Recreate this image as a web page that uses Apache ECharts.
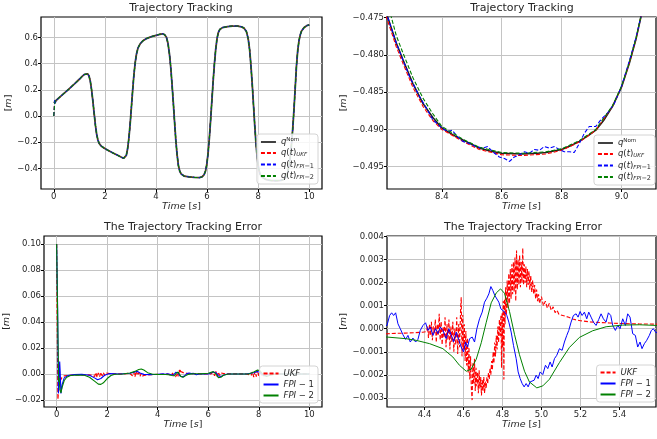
<!DOCTYPE html>
<html>
<head>
<meta charset="utf-8">
<script src="https://cdn.jsdelivr.net/npm/echarts@6/dist/echarts.min.js"></script>
<style>
  html, body { margin: 0; padding: 0; background: #fff; }
  #chart { width: 657px; height: 439px; }
</style>
</head>
<body>
<div id="chart"></div>
<script>
// ---- Tracking: nominal trajectory q(t) [m] vs time [s] ----
const qNomHead = [[0,0.1],[0.05,0.112],[0.1,0.12],[0.2,0.138],[0.4,0.172],[0.6,0.207],[0.8,0.243],[1.0,0.28],[1.1,0.3],[1.2,0.317],[1.27,0.325],[1.33,0.321],[1.38,0.305],[1.43,0.265],[1.48,0.2],[1.53,0.115],[1.58,0.02],[1.63,-0.07],[1.68,-0.14],[1.73,-0.185],[1.78,-0.21],[1.85,-0.228],[1.95,-0.242],[2.1,-0.26],[2.3,-0.28],[2.5,-0.3],[2.65,-0.315],[2.73,-0.323],[2.79,-0.322],[2.84,-0.3],[2.89,-0.25],[2.94,-0.17],[2.99,-0.06],[3.04,0.07],[3.09,0.2],[3.14,0.32],[3.19,0.41],[3.24,0.475],[3.3,0.52],[3.38,0.55],[3.48,0.572],[3.6,0.588],[3.8,0.604],[4.0,0.615],[4.15,0.623],[4.25,0.627],[4.34,0.62],[4.41,0.6],[4.47,0.555],[4.53,0.47],[4.58,0.37],[4.63,0.24],[4.68,0.1],[4.73,-0.05],[4.78,-0.19],[4.83,-0.3],[4.88,-0.38],[4.93,-0.42],[4.99,-0.443],[5.1,-0.458],[5.3,-0.465],[5.5,-0.468],[5.7,-0.47],[5.8,-0.465],[5.88,-0.45],[5.94,-0.42],[5.99,-0.37],[6.04,-0.285],[6.09,-0.17],[6.14,-0.03],[6.19,0.12],[6.24,0.27],[6.29,0.4],[6.34,0.51],[6.39,0.59],[6.44,0.635],[6.5,0.66],[6.6,0.674],[6.8,0.682],[7.0,0.686],[7.2,0.686],[7.35,0.68],[7.45,0.67],[7.54,0.645],[7.61,0.59],[7.67,0.5],[7.72,0.38],[7.77,0.24],[7.82,0.08],[7.87,-0.08],[7.92,-0.22],[7.97,-0.33],[8.02,-0.4],[8.07,-0.44],[8.12,-0.461],[8.17,-0.47]];
const qNomWindow = [[8.22,-0.475],[8.248,-0.4784],[8.27,-0.4806],[8.303,-0.4838],[8.337,-0.4865],[8.37,-0.4884],[8.4,-0.4898],[8.44,-0.4908],[8.47,-0.4914],[8.525,-0.4925],[8.56,-0.4929],[8.6,-0.4932],[8.67,-0.4933],[8.72,-0.4932],[8.748,-0.4931],[8.8,-0.4927],[8.83,-0.4922],[8.859,-0.4916],[8.89,-0.4908],[8.914,-0.4901],[8.94,-0.4888],[8.97,-0.4869],[9.0,-0.4843],[9.026,-0.4811],[9.048,-0.4779],[9.064,-0.475]];
const qNomTail = [[9.1,-0.462],[9.15,-0.435],[9.2,-0.39],[9.25,-0.32],[9.3,-0.23],[9.35,-0.11],[9.4,0.04],[9.45,0.21],[9.5,0.38],[9.55,0.5],[9.6,0.575],[9.65,0.62],[9.7,0.648],[9.8,0.675],[9.9,0.689],[10.0,0.695]];

// ---- Estimated trajectories: start-up transient and the 8.2–9.1 s stretch ----
const qUkfStart  = [[0,0],[0.02,0.07],[0.04,0.105],[0.07,0.118],[0.1,0.12]];
const qFpi1Start = [[0,0],[0.02,0.06],[0.04,0.125],[0.06,0.098],[0.08,0.11],[0.1,0.121]];
const qFpi2Start = [[0,0],[0.03,0.08],[0.06,0.115],[0.1,0.12]];
const qUkfWindow = [[8.22,-0.4755],[8.248,-0.4789],[8.27,-0.4811],[8.303,-0.4843],[8.337,-0.4869],[8.37,-0.4888],[8.4,-0.49],[8.47,-0.4916],[8.525,-0.4927],[8.6,-0.4934],[8.67,-0.4935],[8.748,-0.4933],[8.8,-0.4928],[8.859,-0.4917],[8.914,-0.4901],[8.97,-0.4869],[9.0,-0.4843],[9.026,-0.4811],[9.048,-0.4779],[9.064,-0.475]];
const qFpi1Window = [[8.22,-0.475],[8.248,-0.4784],[8.292,-0.4829],[8.326,-0.4856],[8.348,-0.4871],[8.37,-0.4887],[8.4,-0.4898],[8.42,-0.4903],[8.434,-0.4901],[8.453,-0.491],[8.47,-0.4916],[8.492,-0.4919],[8.514,-0.4923],[8.537,-0.4925],[8.553,-0.4923],[8.57,-0.493],[8.592,-0.4937],[8.609,-0.4939],[8.626,-0.4943],[8.642,-0.4937],[8.659,-0.4934],[8.676,-0.493],[8.692,-0.4932],[8.709,-0.4927],[8.726,-0.4928],[8.742,-0.4923],[8.759,-0.4925],[8.776,-0.4923],[8.792,-0.4927],[8.809,-0.493],[8.826,-0.493],[8.842,-0.4931],[8.859,-0.4919],[8.876,-0.4905],[8.892,-0.4896],[8.914,-0.4896],[8.931,-0.4887],[8.953,-0.4878],[8.976,-0.4865],[9.0,-0.4842],[9.026,-0.4808],[9.048,-0.4777],[9.064,-0.475]];
const qFpi2Window = [[8.22,-0.4732],[8.248,-0.4774],[8.27,-0.4797],[8.303,-0.483],[8.337,-0.4858],[8.37,-0.4879],[8.4,-0.4896],[8.47,-0.4913],[8.525,-0.4924],[8.6,-0.4931],[8.67,-0.4932],[8.748,-0.493],[8.8,-0.4926],[8.859,-0.4915],[8.914,-0.49],[8.97,-0.4868],[9.0,-0.4842],[9.026,-0.481],[9.048,-0.4778],[9.064,-0.4749]];

// ---- Tracking error [m]: 0–4.2 s, 4.2–5.6 s (dense), 5.6–10 s ----
const errUkfHead = [[0,0.1],[0.02,0.05],[0.05,-0.0195],[0.08,-0.012],[0.12,-0.006],[0.2,-0.003],[0.3,-0.0015],[0.5,-0.001],[0.8,-0.0008],[1.2,-0.0006],[1.4,-0.001],[1.45,0.0005],[1.5,-0.002],[1.55,0.001],[1.6,-0.0025],[1.65,0.0008],[1.7,-0.002],[1.75,0.0012],[1.8,-0.0015],[1.85,0.001],[1.9,-0.001],[1.95,0.0008],[2.0,-0.0005],[2.1,0.0003],[2.3,0],[2.6,0],[2.9,0.0005],[3.0,-0.0015],[3.05,0.0015],[3.1,-0.002],[3.15,0.0025],[3.2,-0.001],[3.25,0.0012],[3.3,-0.0018],[3.35,0.0005],[3.4,-0.0015],[3.5,-0.001],[3.7,-0.0005],[4.0,-0.0003]];
const errUkfWindow = [[4.207,-0.00022],[4.25,-0.0002],[4.3,-0.00019],[4.35,-0.00017],[4.39,-0.00015],[4.41,-0.00012],[4.415,0.0001],[4.42,-0.0004],[4.425,0.0002],[4.43,-0.0003],[4.435,0.0003],[4.44,-0.0005],[4.445,0.0001],[4.45,-0.0002],[4.455,0.0004],[4.46,-0.0006],[4.465,0.0002],[4.47,-0.0003],[4.475,0.00065],[4.48,-0.0005],[4.485,0.0003],[4.49,-0.0007],[4.495,0.0001],[4.5,-0.0004],[4.505,0.0005],[4.51,-0.0008],[4.515,0.0002],[4.52,-0.0005],[4.525,0.0004],[4.53,-0.0009],[4.535,0.0001],[4.54,-0.0006],[4.545,0.0003],[4.55,-0.001],[4.555,0],[4.56,-0.0007],[4.565,0.0005],[4.57,-0.0011],[4.575,0.0002],[4.58,-0.0008],[4.585,0.0009],[4.588,0.00137],[4.592,-0.0012],[4.596,0.0006],[4.6,-0.0009],[4.604,0.0002],[4.608,-0.0014],[4.612,-0.0001],[4.616,-0.0016],[4.62,-0.0004],[4.624,-0.0019],[4.628,-0.0008],[4.632,-0.0022],[4.636,-0.0012],[4.64,-0.0026],[4.644,-0.0031],[4.648,-0.0015],[4.652,-0.0024],[4.656,-0.0013],[4.66,-0.0027],[4.664,-0.0017],[4.668,-0.0025],[4.672,-0.0019],[4.676,-0.0028],[4.68,-0.0018],[4.684,-0.0026],[4.688,-0.0021],[4.692,-0.0029],[4.696,-0.0022],[4.7,-0.0027],[4.704,-0.0021],[4.708,-0.0028],[4.712,-0.0023],[4.716,-0.0026],[4.72,-0.0021],[4.724,-0.0024],[4.728,-0.0019],[4.732,-0.0022],[4.736,-0.0017],[4.74,-0.002],[4.744,-0.0014],[4.748,-0.0018],[4.752,-0.001],[4.756,-0.0015],[4.76,-0.0006],[4.764,-0.0012],[4.768,-0.0003],[4.772,-0.0009],[4.776,0.0001],[4.78,-0.0006],[4.784,0.0004],[4.788,-0.0003],[4.792,0.0006],[4.795,-0.0017],[4.798,0.0007],[4.801,-0.0008],[4.804,0.0012],[4.807,-0.0022],[4.81,0.0013],[4.813,0.0002],[4.816,0.0018],[4.82,0.0006],[4.824,0.0021],[4.828,0.0009],[4.832,0.0024],[4.836,0.0011],[4.84,0.0026],[4.844,0.0013],[4.848,0.0028],[4.852,0.0015],[4.856,0.0029],[4.86,0.0016],[4.864,0.0031],[4.868,0.0012],[4.872,0.0034],[4.876,0.0017],[4.88,0.003],[4.884,0.0019],[4.888,0.0032],[4.892,0.0018],[4.896,0.0029],[4.9,0.002],[4.904,0.0035],[4.908,0.0019],[4.912,0.0028],[4.916,0.002],[4.92,0.0027],[4.924,0.0018],[4.928,0.0026],[4.932,0.0019],[4.936,0.0025],[4.94,0.0017],[4.945,0.0023],[4.95,0.0016],[4.955,0.0021],[4.96,0.0015],[4.965,0.0019],[4.97,0.0013],[4.975,0.0017],[4.98,0.0012],[4.985,0.0015],[4.99,0.0011],[5.0,0.0014],[5.01,0.001],[5.02,0.0012],[5.03,0.0009],[5.04,0.0011],[5.05,0.0008],[5.06,0.00095],[5.07,0.0007],[5.08,0.0008],[5.09,0.00062],[5.1,0.0007],[5.12,0.00055],[5.14,0.0005],[5.16,0.00042],[5.18,0.00038],[5.2,0.00035],[5.25,0.0003],[5.3,0.00027],[5.35,0.00025],[5.4,0.00023],[5.45,0.00022],[5.5,0.00021],[5.588,0.0002]];
const errUkfTail = [[5.8,0.0001],[6.1,0],[6.2,0.0015],[6.25,-0.0015],[6.3,0.002],[6.35,-0.002],[6.4,0.0015],[6.45,-0.0012],[6.5,0.0008],[6.55,-0.0005],[6.7,0],[7.5,0],[7.7,-0.001],[7.75,0.0015],[7.8,-0.0025],[7.85,0.002],[7.9,-0.002],[7.95,0.003],[8.0,-0.0015],[8.05,0.002],[8.1,-0.001],[8.2,0.0005],[8.4,0],[9.0,0],[10.0,0]];

const errFpi1Head = [[0,0.1],[0.04,0.05],[0.07,-0.015],[0.1,-0.005],[0.12,0.0095],[0.14,0.002],[0.17,-0.015],[0.22,-0.008],[0.3,-0.003],[0.45,-0.0012],[0.7,-0.0005],[1.0,-0.0003],[1.3,-0.001],[1.5,-0.003],[1.62,-0.0045],[1.75,-0.0035],[1.9,-0.001],[2.1,0.0003],[2.5,0],[2.9,0.0005],[3.1,0.0015],[3.2,0.002],[3.3,0.0008],[3.45,-0.0003],[3.7,-0.0005],[4.0,-0.0002]];
const errFpi1Window = [[4.207,0.000144],[4.2205,0.000577],[4.2308,0.000693],[4.241,0.000577],[4.2513,0.000693],[4.2632,0.000216],[4.2752,0],[4.2889,-0.00026],[4.3026,-0.000462],[4.3145,-0.000289],[4.3265,-0.000577],[4.3402,-0.000404],[4.3538,-0.000577],[4.3658,-0.000462],[4.3778,-0.000072],[4.3915,0.000144],[4.4051,0.00026],[4.4171,-0.000072],[4.4291,0.000072],[4.4427,-0.000289],[4.4564,0],[4.4684,-0.000216],[4.4803,0.000072],[4.494,-0.000072],[4.5111,-0.000433],[4.5248,0],[4.5368,-0.000289],[4.5487,-0.000577],[4.5624,-0.000144],[4.5761,-0.000505],[4.588,-0.000794],[4.6,-0.00101],[4.6103,-0.000577],[4.6205,-0.000794],[4.6308,-0.000433],[4.6444,-0.000361],[4.6564,-0.000577],[4.6684,0],[4.6821,0.000433],[4.6957,0.000722],[4.7077,0.001154],[4.7197,0.001328],[4.7299,0.001515],[4.7402,0.001833],[4.7504,0.00166],[4.7607,0.001443],[4.7709,0.001515],[4.7812,0.001154],[4.7915,0.000866],[4.8017,0.000938],[4.812,0.000722],[4.8222,0.000577],[4.8325,0.000289],[4.8444,-0.000144],[4.8564,-0.000722],[4.8701,-0.001299],[4.8803,-0.001876],[4.8906,-0.002165],[4.9009,-0.002381],[4.9111,-0.002525],[4.9214,-0.002381],[4.9316,-0.002525],[4.9419,-0.002309],[4.9521,-0.002381],[4.9624,-0.002237],[4.9726,-0.00202],[4.9829,-0.002165],[4.9932,-0.001876],[5.0068,-0.001991],[5.0205,-0.001587],[5.0325,-0.001732],[5.0444,-0.001443],[5.0547,-0.00166],[5.0667,-0.001299],[5.0786,-0.001154],[5.0923,-0.000866],[5.106,-0.000938],[5.1179,-0.000577],[5.1299,-0.000289],[5.1402,-0.000072],[5.1521,0.000289],[5.1641,0.000577],[5.1778,0.000649],[5.188,0.000505],[5.1983,0.00075],[5.2085,0.000577],[5.2205,0.000722],[5.2325,0.000433],[5.2427,0.000722],[5.2547,0.000505],[5.2667,0.000289],[5.2803,0.000144],[5.294,0.000404],[5.306,0.000649],[5.3179,0.000433],[5.3316,0.000289],[5.3436,0.000693],[5.3556,0.000577],[5.3658,0.000144],[5.3795,-0.000072],[5.3915,0.000144],[5.4034,0],[5.4171,0.000433],[5.4308,0.000144],[5.4427,0.000649],[5.4547,0.000505],[5.4684,-0.000216],[5.4821,-0.000289],[5.494,-0.000794],[5.506,-0.000577],[5.5162,-0.000866],[5.5282,-0.000649],[5.5402,-0.000505],[5.5538,-0.000289],[5.5641,-0.000072],[5.5744,0],[5.588,-0.000173]];
const errFpi1Tail = [[5.65,0],[5.8,0.0002],[6.0,0],[6.2,0.0015],[6.3,0.001],[6.4,-0.0015],[6.5,-0.002],[6.6,-0.001],[6.75,0],[7.5,0],[7.8,0.001],[7.95,0.002],[8.05,0.001],[8.2,-0.0015],[8.3,-0.0008],[8.5,0],[10.0,0]];

const errFpi2Head = [[0,0.1],[0.05,0.03],[0.08,-0.006],[0.1,-0.003],[0.13,-0.012],[0.17,-0.0145],[0.22,-0.01],[0.3,-0.005],[0.4,-0.0025],[0.55,-0.0012],[0.8,-0.0008],[1.1,-0.001],[1.3,-0.0025],[1.5,-0.0055],[1.65,-0.0078],[1.75,-0.008],[1.85,-0.0068],[2.0,-0.0035],[2.15,-0.0012],[2.3,-0.0002],[2.6,0],[2.9,0.0008],[3.1,0.002],[3.25,0.0035],[3.35,0.0038],[3.45,0.003],[3.6,0.001],[3.8,-0.0002],[4.0,-0.0003]];
const errFpi2Window = [[4.207,-0.000361],[4.306,-0.000433],[4.357,-0.000505],[4.426,-0.000649],[4.494,-0.000866],[4.545,-0.001227],[4.579,-0.001587],[4.614,-0.001847],[4.639,-0.00176],[4.665,-0.001328],[4.691,-0.000606],[4.716,0.00026],[4.742,0.001126],[4.768,0.001558],[4.79,0.001732],[4.81,0.001544],[4.836,0.00075],[4.862,-0.00026],[4.887,-0.001126],[4.913,-0.001847],[4.938,-0.002309],[4.976,-0.002569],[5.007,-0.002482],[5.041,-0.002193],[5.092,-0.001472],[5.144,-0.000808],[5.195,-0.000375],[5.263,-0.000087],[5.332,0.000087],[5.417,0.000159],[5.503,0.000173],[5.588,0.000144]];
const errFpi2Tail = [[5.7,0.0001],[6.0,0.0005],[6.2,0.0018],[6.3,0],[6.4,-0.0028],[6.5,-0.0025],[6.6,-0.001],[6.8,0],[7.6,0],[7.8,0.0015],[7.95,0.003],[8.05,0.0025],[8.15,0],[8.3,-0.002],[8.45,-0.001],[8.7,0],[10.0,0]];

// ---- Tick positions ----
const xTicksFull = [0, 2, 4, 6, 8, 10];
const yTicksTrack = [-0.4, -0.2, 0, 0.2, 0.4, 0.6];
const xTicksTrackZoom = [8.4, 8.6, 8.8, 9.0];
const yTicksTrackZoom = [-0.495, -0.49, -0.485, -0.48, -0.475];
const yTicksErr = [-0.02, 0, 0.02, 0.04, 0.06, 0.08, 0.10];
const xTicksErrZoom = [4.4, 4.6, 4.8, 5.0, 5.2, 5.4];
const yTicksErrZoom = [-0.003, -0.002, -0.001, 0, 0.001, 0.002, 0.003, 0.004];

// ---- Assemble full series ----
const afterStart = qNomHead.filter(p => p[0] > 0.1);
const qNom  = [...qNomHead, ...qNomWindow, ...qNomTail];
const qUkf  = [...qUkfStart, ...afterStart, ...qUkfWindow, ...qNomTail];
const qFpi1 = [...qFpi1Start, ...afterStart, ...qFpi1Window, ...qNomTail];
const qFpi2 = [...qFpi2Start, ...afterStart, ...qFpi2Window, ...qNomTail];
const errUkf  = [...errUkfHead, ...errUkfWindow, ...errUkfTail];
const errFpi1 = [...errFpi1Head, ...errFpi1Window, ...errFpi1Tail];
const errFpi2 = [...errFpi2Head, ...errFpi2Window, ...errFpi2Tail];

const FONT = 'DejaVu Sans';
const TXT = '#262626';
const GRIDC = '#c4c4c4';

const fmt = d => v => (v < 0 ? '\u2212' : '') + Math.abs(v).toFixed(d);

const grids = [
  { left: 41,  top: 17,  width: 281, height: 172 },
  { left: 387, top: 17,  width: 269, height: 172 },
  { left: 44,  top: 236, width: 278, height: 171 },
  { left: 387, top: 236, width: 269, height: 171 }
].map(g => Object.assign(g, { show: true, borderColor: '#000', borderWidth: 1.2, containLabel: false }));

const nameRich = {
  i: { fontFamily: FONT, fontStyle: 'italic', fontSize: 9.5, color: TXT },
  n: { fontFamily: FONT, fontSize: 9.5, color: TXT }
};

function xAxis(gi, min, max, ticks, dec) {
  return {
    type: 'value', gridIndex: gi, min, max,
    name: '{i|Time}{n| [}{i|s}{n|]}', nameLocation: 'middle', nameGap: 13,
    nameTextStyle: { rich: nameRich },
    axisLine: { show: false, onZero: false },
    axisTick: { show: true, length: 3, inside: false, customValues: ticks, lineStyle: { color: '#000', width: 1 } },
    axisLabel: { customValues: ticks, formatter: fmt(dec), fontFamily: FONT, fontSize: 8.5, color: TXT, margin: 3 },
    splitLine: { show: true, lineStyle: { color: GRIDC, width: 1 } }
  };
}
function yAxis(gi, min, max, ticks, dec, gap) {
  return {
    type: 'value', gridIndex: gi, min, max,
    name: '{n|[}{i|m}{n|]}', nameLocation: 'middle', nameGap: gap, nameRotate: 90,
    nameTextStyle: { rich: nameRich },
    axisLine: { show: false, onZero: false },
    axisTick: { show: true, length: 3, inside: false, customValues: ticks, lineStyle: { color: '#000', width: 1 } },
    axisLabel: { customValues: ticks, formatter: fmt(dec), fontFamily: FONT, fontSize: 8.5, color: TXT, margin: 3 },
    splitLine: { show: true, lineStyle: { color: GRIDC, width: 1 } }
  };
}

const DASH = [4, 2];
function line(name, data, gi, color, width, dash) {
  return {
    type: 'line', name, data, xAxisIndex: gi, yAxisIndex: gi,
    symbol: 'none', showSymbol: false, smooth: false, clip: true,
    lineStyle: { color, width, type: dash ? DASH : 'solid' },
    itemStyle: { color },
    emphasis: { disabled: true }
  };
}

const legendRich = {
  i:   { fontFamily: FONT, fontStyle: 'italic', fontSize: 8.5, color: TXT, lineHeight: 10 },
  n:   { fontFamily: FONT, fontSize: 8.5, color: TXT, lineHeight: 10 },
  sup: { fontFamily: FONT, fontSize: 5.5, color: TXT, verticalAlign: 'top', lineHeight: 10 },
  sub: { fontFamily: FONT, fontStyle: 'italic', fontSize: 5.5, color: TXT, verticalAlign: 'bottom', lineHeight: 10 },
  subn:{ fontFamily: FONT, fontSize: 6.5, color: TXT, verticalAlign: 'bottom', lineHeight: 10 }
};
const legendText = {
  qNom:  '{i|q}{sup|Nom}',
  qUkf:  '{i|q}{n|(}{i|t}{n|)}{sub|UKF}',
  qFpi1: '{i|q}{n|(}{i|t}{n|)}{sub|FPI}{subn|\u22121}',
  qFpi2: '{i|q}{n|(}{i|t}{n|)}{sub|FPI}{subn|\u22122}',
  'UKF':   '{i|UKF}',
  'FPI-1': '{i|FPI}{n| \u2212 1}',
  'FPI-2': '{i|FPI}{n| \u2212 2}'
};
function legend(names, right, bottom) {
  return {
    data: names, orient: 'vertical', right, bottom,
    itemWidth: 15, itemHeight: 8, itemGap: 2,
    padding: [3, 4, 3, 3],
    backgroundColor: 'rgba(255,255,255,0.85)', borderColor: '#d4d4d4', borderWidth: 1, borderRadius: 3,
    selectedMode: false,
    itemStyle: { color: 'rgba(0,0,0,0)', borderWidth: 0, opacity: 0 },
    formatter: n => legendText[n],
    textStyle: { fontFamily: FONT, fontSize: 8.5, color: TXT, rich: legendRich }
  };
}

const titleStyle = { fontFamily: FONT, fontSize: 11, fontWeight: 'normal', color: TXT };

const chart = echarts.init(document.getElementById('chart'), null, { renderer: 'canvas' });
chart.setOption({
  animation: false,
  backgroundColor: '#fff',
  title: [
    { text: 'Trajectory Tracking', left: 181, top: 3, textAlign: 'center', padding: 0, textStyle: titleStyle },
    { text: 'Trajectory Tracking', left: 522, top: 3, textAlign: 'center', padding: 0, textStyle: titleStyle },
    { text: 'The Trajectory Tracking Error', left: 183, top: 222, textAlign: 'center', padding: 0, textStyle: titleStyle },
    { text: 'The Trajectory Tracking Error', left: 523, top: 222, textAlign: 'center', padding: 0, textStyle: titleStyle }
  ],
  grid: grids,
  xAxis: [
    xAxis(0, -0.5, 10.5, xTicksFull, 0),
    xAxis(1, 8.217, 9.115, xTicksTrackZoom, 1),
    xAxis(2, -0.5, 10.5, xTicksFull, 0),
    xAxis(3, 4.207, 5.588, xTicksErrZoom, 1)
  ],
  yAxis: [
    yAxis(0, -0.557, 0.755, yTicksTrack, 1, 22),
    yAxis(1, -0.498, -0.4749, yTicksTrackZoom, 3, 27),
    yAxis(2, -0.0254, 0.1061, yTicksErr, 2, 24),
    yAxis(3, -0.0034, 0.00403, yTicksErrZoom, 3, 27)
  ],
  legend: [
    legend(['qNom', 'qUkf', 'qFpi1', 'qFpi2'], 339, 255),
    legend(['qNom', 'qUkf', 'qFpi1', 'qFpi2'], 2, 254),
    legend(['UKF', 'FPI-1', 'FPI-2'], 339, 36),
    legend(['UKF', 'FPI-1', 'FPI-2'], 2, 37)
  ],
  series: [
    line('qNom',  qNom,  0, '#404040', 1.8, false),
    line('qUkf',  qUkf,  0, '#ff0000', 1.1, true),
    line('qFpi1', qFpi1, 0, '#0000ff', 1.1, true),
    line('qFpi2', qFpi2, 0, '#008000', 1.1, true),
    line('qNom',  qNom,  1, '#202020', 1.6, false),
    line('qUkf',  qUkf,  1, '#ff0000', 1.1, true),
    line('qFpi1', qFpi1, 1, '#0000ff', 1.1, true),
    line('qFpi2', qFpi2, 1, '#008000', 1.1, true),
    line('UKF',   errUkf,  2, '#ff0000', 1.2, true),
    line('FPI-1', errFpi1, 2, '#0000ff', 1.1, false),
    line('FPI-2', errFpi2, 2, '#008000', 1.1, false),
    line('UKF',   errUkf,  3, '#ff0000', 1.1, true),
    line('FPI-1', errFpi1, 3, '#0000ff', 1.0, false),
    line('FPI-2', errFpi2, 3, '#008000', 1.0, false)
  ]
});
</script>
</body>
</html>
